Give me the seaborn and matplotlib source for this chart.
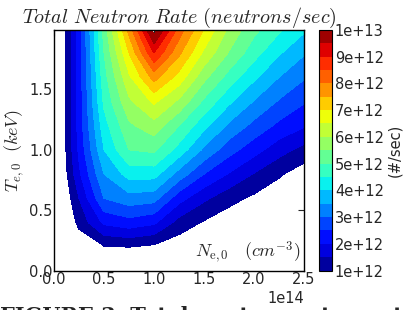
import numpy as np
import matplotlib
matplotlib.use("Agg")
import matplotlib.pyplot as plt
import seaborn as sns

# grid of the simulation (density in cm^-3, temperature in keV)
ne = [0.0, 0.25e14, 0.5e14, 0.75e14, 1.0e14, 1.25e14, 1.5e14, 1.75e14, 2.0e14, 2.25e14, 2.5e14]
te = [0.0, 0.2, 0.4, 0.6, 0.8, 1.0, 1.2, 1.4, 1.6, 1.8, 2.0]

# total neutron rate, units of 1e12 neutrons/sec, one row per temperature
rate_t00 = [0, 0.0, 0.0, 0.0, 0.0, 0.0, 0.0, 0.0, 0.0, 0.0, 0.0]
rate_t02 = [0, 0.6, 0.97, 1.02, 0.9, 0.7, 0.5, 0.35, 0.25, 0.2, 0.15]
rate_t04 = [0, 1.15, 2.1, 2.3, 2.1, 1.3, 0.95, 0.7, 0.55, 0.4, 0.3]
rate_t06 = [0, 1.5, 3.0, 3.3, 3.2, 2.2, 1.6, 1.17, 0.9, 0.65, 0.45]
rate_t08 = [0, 1.9, 3.5, 4.2, 4.2, 3.3, 2.5, 1.96, 1.47, 1.07, 0.72]
rate_t10 = [0, 2.1, 4.0, 5.0, 5.1, 4.3, 3.4, 2.7, 2.2, 1.7, 1.33]
rate_t12 = [0, 2.2, 4.3, 5.4, 5.8, 5.0, 4.15, 3.4, 2.85, 2.38, 2.05]
rate_t14 = [0, 2.2, 4.6, 5.9, 6.6, 5.9, 4.9, 4.1, 3.47, 2.95, 2.55]
rate_t16 = [0, 2.2, 4.8, 6.4, 7.7, 6.8, 5.65, 4.8, 4.1, 3.5, 3.05]
rate_t18 = [0, 2.2, 5.0, 7.0, 9.0, 7.6, 6.4, 5.46, 4.7, 4.06, 3.55]
rate_t20 = [0, 2.2, 5.2, 7.7, 10.3, 8.3, 7.0, 5.9, 5.15, 4.6, 4.1]

cbar_ticks = [1e12, 2e12, 3e12, 4e12, 5e12, 6e12, 7e12, 8e12, 9e12, 1e13]

sns.set_style("white")
plt.rcParams["mathtext.fontset"] = "cm"
plt.rcParams["font.family"] = ["DejaVu Sans"]

rate = np.array([rate_t00, rate_t02, rate_t04, rate_t06, rate_t08, rate_t10,
                 rate_t12, rate_t14, rate_t16, rate_t18, rate_t20]) * 1e12
levels = np.arange(1.0, 10.01, 0.5) * 1e12

fig = plt.figure(figsize=(4.12, 3.10), dpi=100)
ax = fig.add_axes([0.131, 0.126, 0.607, 0.777])
cax = fig.add_axes([0.775, 0.127, 0.031, 0.777])

cs = ax.contourf(ne, te, rate, levels=levels, cmap="jet")
ax.set_xlim(0, 2.5e14)
ax.set_ylim(0, 1.99)
ax.set_xticks([0, 0.5e14, 1.0e14, 1.5e14, 2.0e14, 2.5e14])
ax.set_yticks([0, 0.5, 1.0, 1.5])
ax.tick_params(direction="in", top=True, right=True, length=4, labelsize=10.5, pad=1)
ax.xaxis.get_offset_text().set_fontsize(10.5)
for s in ax.spines.values():
    s.set_color("black")
    s.set_linewidth(1.0)

ax.set_title(r"$Total\ Neutron\ Rate\ (neutrons/sec)$", fontsize=14.5, pad=5)
ax.set_ylabel(r"$T_{e,0}\ \ (keV)$", fontsize=13, labelpad=2)
ax.text(0.985, 0.02, r"$N_{\mathrm{e,0}}\ \ \ (cm^{-3})$", transform=ax.transAxes,
        ha="right", va="bottom", fontsize=13)

cb = fig.colorbar(cs, cax=cax, ticks=cbar_ticks, format="%.0e")
cb.ax.tick_params(labelsize=10.5, length=0, pad=2)
cb.outline.set_edgecolor("black")
cb.set_label("(#/sec)", fontsize=10.5, labelpad=2)

# caption of the source figure, cut by the bottom edge
fig.text(0.0, -0.040, "FIGURE 3. Total neutron rate contours of", fontsize=15,
         fontweight="bold", family="DejaVu Serif", ha="left", va="baseline")

fig.savefig("out.png", dpi=100)
